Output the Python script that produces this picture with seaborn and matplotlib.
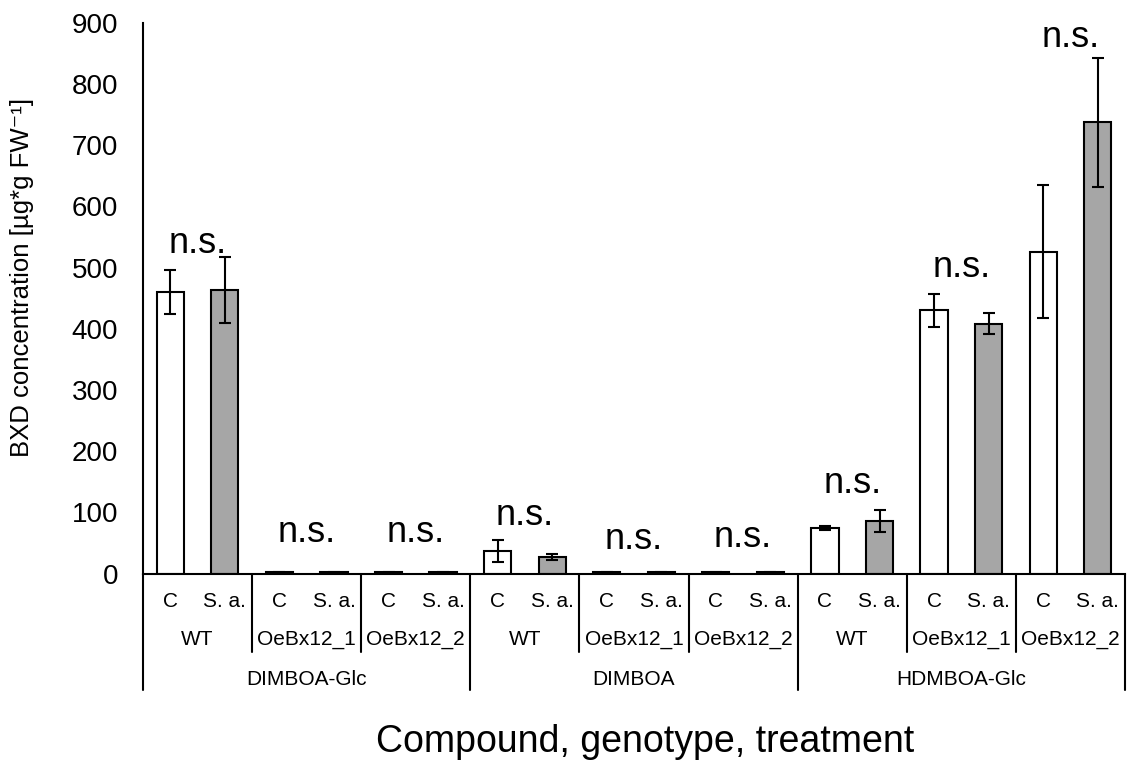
import matplotlib
matplotlib.use("Agg")
import matplotlib.pyplot as plt
import seaborn as sns
import pandas as pd

# Chart data
compounds = ["DIMBOA-Glc", "DIMBOA", "HDMBOA-Glc"]
genotypes = ["WT", "OeBx12_1", "OeBx12_2"]
treatments = ["C", "S. a."]

means = [460, 463, 2, 2, 2, 2,
         37, 26.5, 2, 2, 2, 2,
         74, 85, 430, 408, 526, 737]
errors = [36, 54, 0.5, 0.5, 0.5, 0.5,
          18, 5, 0.5, 0.5, 0.5, 0.5,
          3, 18, 27, 17, 109, 105]
ns_labels = ["n.s."] * 9
ns_y = [524, 51.5, 51.5, 79, 40, 43, 131.5, 484.5, 860]

rows = []
for c in compounds:
    for g in genotypes:
        for t in treatments:
            rows.append({"compound": c, "genotype": g, "treatment": t,
                         "key": f"{c}|{g}|{t}"})
df = pd.DataFrame(rows)
df["value"] = means
df["err"] = errors

sns.set_style("white")
plt.rcParams["font.family"] = ["Liberation Sans", "DejaVu Sans"]
plt.rcParams["text.color"] = "black"

W, H = 1127, 769
fig = plt.figure(figsize=(W / 100, H / 100), dpi=100)
ax_left, ax_right, ax_top, ax_bottom = 143, 1125, 22.7, 573.5
ax = fig.add_axes([ax_left / W, 1 - ax_bottom / H,
                   (ax_right - ax_left) / W, (ax_bottom - ax_top) / H])
ax_h = ax_bottom - ax_top

sns.barplot(data=df, x="key", y="value", hue="treatment", dodge=False,
            palette={"C": "white", "S. a.": "#a6a6a6"}, width=0.5,
            edgecolor="black", linewidth=1.5, errorbar=None, legend=False,
            ax=ax)
xs = list(range(len(df)))
ax.errorbar(xs, df["value"], yerr=df["err"], fmt="none", ecolor="black",
            elinewidth=1.5, capsize=4.5, capthick=1.5, zorder=5)

ax.set_ylim(0, 900)
ax.set_xlim(-0.5, len(df) - 0.5)
ax.set_yticks(range(0, 901, 100))
ax.tick_params(axis="y", direction="in", length=5, width=1.5, pad=18,
               labelsize=20, colors="black", labelcolor="black")
ax.set_xticks([])
ax.set_xlabel("")
ax.set_ylabel("")
for s in ["top", "right"]:
    ax.spines[s].set_visible(False)
for s in ["left", "bottom"]:
    ax.spines[s].set_linewidth(1.5)
    ax.spines[s].set_color("black")

# significance labels
for k, y in enumerate(ns_y):
    ax.text(2 * k + 0.5, y, ns_labels[k], ha="center", va="baseline",
            fontsize=26, color="black")

# hierarchical category axis
tr = ax.get_xaxis_transform()
def fy(px):
    return -px / ax_h

for k in range(10):
    x = -0.5 + 2 * k
    depth = 116.5 if k % 3 == 0 else 78.5
    ax.plot([x, x], [0, fy(depth)], color="black", lw=1.5,
            transform=tr, clip_on=False)

for i, row in df.iterrows():
    ax.text(i, fy(33.5), row["treatment"], transform=tr, ha="center",
            va="baseline", fontsize=15, color="black")
for k in range(9):
    ax.text(2 * k + 0.5, fy(71.5), genotypes[k % 3], transform=tr,
            ha="center", va="baseline", fontsize=15, color="black")
for m, c in enumerate(compounds):
    ax.text(6 * m + 2.5, fy(111.5), c, transform=tr, ha="center",
            va="baseline", fontsize=15, color="black")

fig.text(22 / W, 1 - 277 / H, "BXD concentration [µg*g FW⁻¹]",
         rotation=90, ha="center", va="center", fontsize=18.5, color="black")
fig.text(645 / W, 1 - 742 / H, "Compound, genotype, treatment",
         ha="center", va="center", fontsize=27, color="black")

fig.savefig("out.png", dpi=100)
